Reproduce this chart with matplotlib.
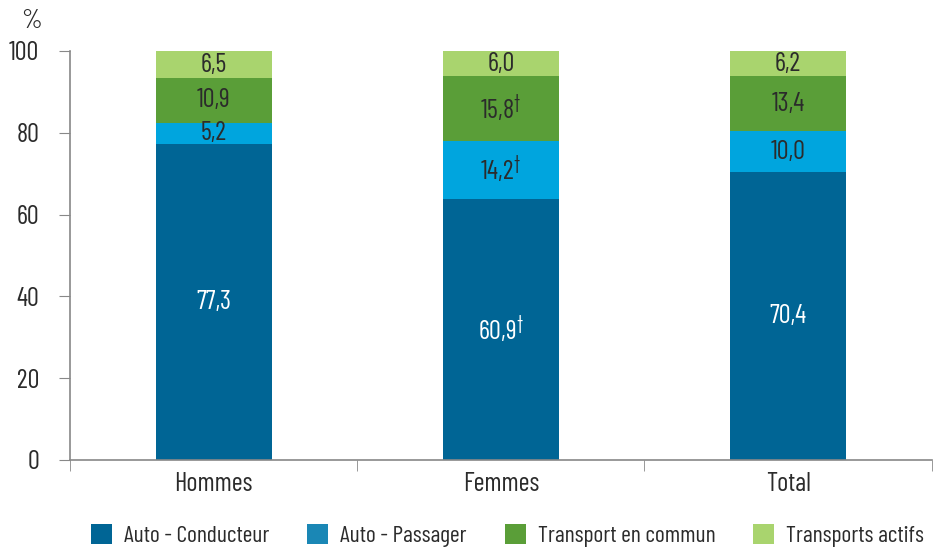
import matplotlib.pyplot as plt
from matplotlib.patches import Patch

groups = ['Hommes', 'Femmes', 'Total']
series = ['Auto - Conducteur', 'Auto - Passager', 'Transport en commun', 'Transports actifs']
conducteur = [77.3, 63.9, 70.4]
passager = [5.2, 14.2, 10.0]
commun = [10.9, 15.8, 13.4]
actifs = [6.5, 6.0, 6.2]
# labels as printed in the source (Femmes driver label differs from bar height)
lab_conducteur = ['77,3', '60,9$^{\\dagger}$', '70,4']
lab_passager = ['5,2', '14,2$^{\\dagger}$', '10,0']
lab_commun = ['10,9', '15,8$^{\\dagger}$', '13,4']
lab_actifs = ['6,5', '6,0', '6,2']

colors = ['#006595', '#00a5de', '#5a9e38', '#a9d46e']
legend_colors = ['#006595', '#1a87b5', '#5a9e38', '#a9d46e']

fam = 'Barlow Condensed'
plt.rcParams['font.family'] = [fam, 'DejaVu Sans']
plt.rcParams['font.weight'] = 'normal'
plt.rcParams['mathtext.fontset'] = 'custom'
plt.rcParams['mathtext.rm'] = fam
txt = '#2b2b2b'
fs = 19

fig = plt.figure(figsize=(9.45, 5.52), dpi=100)
ax = fig.add_axes([0.074, 0.1667, 0.912, 0.741])

x = range(len(groups))
bottom = [0, 0, 0]
for vals, labs, c in zip([conducteur, passager, commun, actifs],
                         [lab_conducteur, lab_passager, lab_commun, lab_actifs], colors):
    ax.bar(x, vals, bottom=bottom, width=0.404, color=c, linewidth=0)
    for i, (v, l) in enumerate(zip(vals, labs)):
        tc = 'white' if c == '#006595' else txt
        ax.text(i, bottom[i] + v / 2, l, ha='center', va='center', fontsize=fs, color=tc)
    bottom = [b + v for b, v in zip(bottom, vals)]

ax.set_xlim(-0.5, 2.5)
ax.set_ylim(0, 100)
ax.set_yticks([0, 20, 40, 60, 80, 100])
ax.set_xticks([0, 1, 2])
ax.set_xticklabels(groups)
ax.set_xticks([-0.5, 0.5, 1.5, 2.5], minor=True)
ax.tick_params(axis='x', which='major', length=0, pad=9, labelsize=fs, labelcolor=txt)
ax.tick_params(axis='x', which='minor', length=8, color='#888888', direction='out')
ax.tick_params(axis='y', length=8, color='#888888', pad=14, labelsize=fs, labelcolor=txt)
for s in ['top', 'right']:
    ax.spines[s].set_visible(False)
for s in ['left', 'bottom']:
    ax.spines[s].set_color('#888888')
    ax.spines[s].set_linewidth(1.2)

fig.text(0.022, 0.962, '%', fontsize=fs, color=txt, ha='left', va='center')

handles = [Patch(facecolor=c, edgecolor='none') for c in legend_colors]
fig.legend(handles, series, loc='lower center', bbox_to_anchor=(0.537, -0.03), ncol=4,
           frameon=False, fontsize=17, labelcolor=txt, handlelength=0.9, handleheight=0.9,
           handletextpad=0.5, columnspacing=1.6)

fig.savefig('out.png', dpi=100)
